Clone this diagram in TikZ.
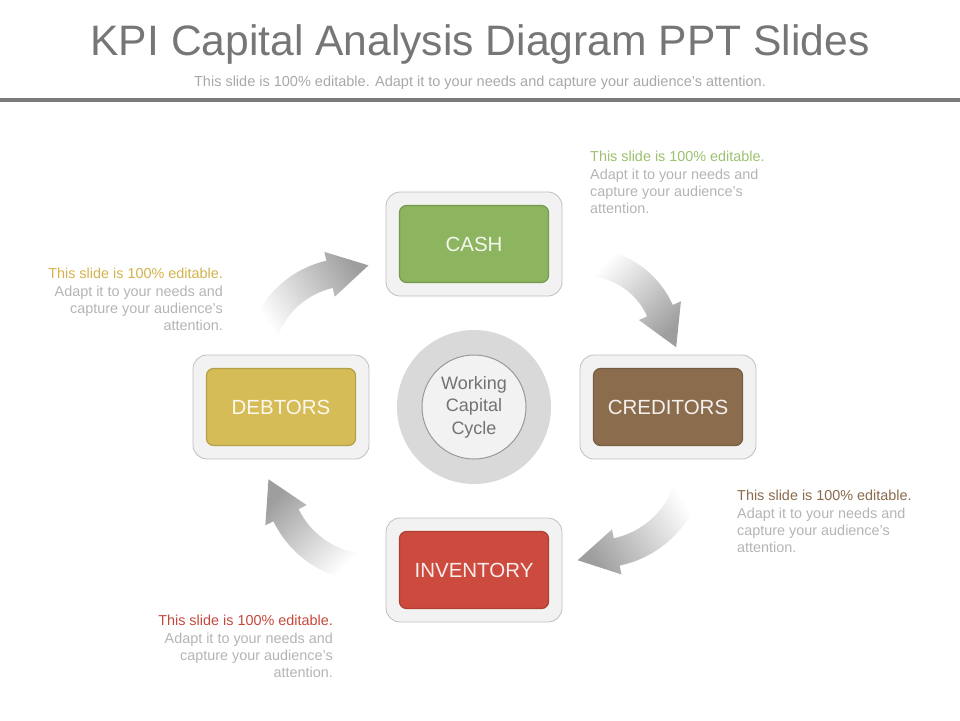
\documentclass[tikz,border=0pt]{standalone}
\usepackage{fontspec}
\setmainfont{Liberation Sans}
\usetikzlibrary{positioning,shadings}

\definecolor{titlegray}{HTML}{767676}
\definecolor{subgray}{HTML}{A8A8A8}
\definecolor{notegray}{HTML}{B4B4B4}
\definecolor{cashc}{HTML}{8DB45F}
\definecolor{debtc}{HTML}{D5BC57}
\definecolor{credc}{HTML}{8B6D4E}
\definecolor{invc}{HTML}{CC4A3E}
\definecolor{cashnote}{HTML}{9CC06F}
\definecolor{debtnote}{HTML}{D2B24C}
\definecolor{crednote}{HTML}{8B6A4C}
\definecolor{invnote}{HTML}{C4473B}

% curved shaded arrow: centre, radius, tail angle, head angle, shading angle
\newcommand{\cyclearrow}[5]{%
  \begin{scope}[shift={#1}]
    \shade[top color=black!38, bottom color=white, shading angle=#5]
      (#3:#2+14) arc[start angle=#3, end angle=#4, radius=#2+14]
      -- (#4:#2+23) -- ({#4+atan(40/#2)}:{sqrt(#2*#2+1600)})
      -- (#4:#2-23) -- (#4:#2-14)
      arc[start angle=#4, end angle=#3, radius=#2-14] -- cycle;
  \end{scope}}

\begin{document}
\begin{tikzpicture}[x=1pt,y=-1pt,
    outerbox/.style={draw=black!25, fill=black!5, line width=0.8pt,
      rounded corners=14pt, minimum width=176pt, minimum height=104pt},
    innerbox/.style={rounded corners=7pt, minimum width=149pt, minimum height=77pt,
      text=white!90!#1, font=\fontsize{20.5}{24}\selectfont,
      fill=#1, draw=#1!85!black, line width=1.2pt},
    note/.style={inner sep=0pt, text=notegray, font=\fontsize{14.4}{17.4}\selectfont}]
  \useasboundingbox (0,0) rectangle (960,720);

  % heading
  \node[anchor=base, text=titlegray, font=\fontsize{42.6}{48}\selectfont]
    (title) at (480,55) {KPI Capital Analysis Diagram PPT Slides};
  \node[anchor=base, text=subgray, font=\fontsize{14.5}{17}\selectfont]
    (subtitle) at (480,86) {This slide is 100\% editable. Adapt it to your needs and capture your audience’s attention.};
  \fill[black!52] (0,98) rectangle (960,102);

  % arrows
  \cyclearrow{(350,363)}{91}{-159}{-103}{-58}
  \cyclearrow{(585,344)}{82}{-85}{-24}{-135}
  \cyclearrow{(597,459)}{95}{20}{78}{123}
  \cyclearrow{(370.5,474)}{94}{98}{154}{45}

  % centre
  \fill[black!15] (474,407) circle[radius=77];
  \node[circle, draw=black!40, fill=black!5, line width=1pt, minimum size=104pt,
    align=center, text=black!55, font=\fontsize{18}{22.5}\selectfont]
    (wcc) at (474,407) {Working\\Capital\\Cycle};

  % boxes
  \node[outerbox] (cashbg) at (474,244) {};
  \node[innerbox=cashc] (cash) at (cashbg) {CASH};
  \node[outerbox] (credbg) at (668,407) {};
  \node[innerbox=credc] (cred) at (credbg) {CREDITORS};
  \node[outerbox] (invbg) at (474,570) {};
  \node[innerbox=invc] (inv) at (invbg) {INVENTORY};
  \node[outerbox] (debtbg) at (281,407) {};
  \node[innerbox=debtc] (debt) at (debtbg) {DEBTORS};

  % notes
  \node[note, anchor=north west, align=left] (cashtxt) at (590,151)
    {\textcolor{cashnote}{This slide is 100\% editable.}\\Adapt it to your needs and\\capture your audience's\\attention.};
  \node[note, anchor=north east, align=right] (debttxt) at (223,268)
    {\textcolor{debtnote}{This slide is 100\% editable.}\\Adapt it to your needs and\\capture your audience's\\attention.};
  \node[note, anchor=north west, align=left] (credtxt) at (737,490)
    {\textcolor{crednote}{This slide is 100\% editable.}\\Adapt it to your needs and\\capture your audience's\\attention.};
  \node[note, anchor=north east, align=right] (invtxt) at (333,615)
    {\textcolor{invnote}{This slide is 100\% editable.}\\Adapt it to your needs and\\capture your audience's\\attention.};
\end{tikzpicture}
\end{document}
